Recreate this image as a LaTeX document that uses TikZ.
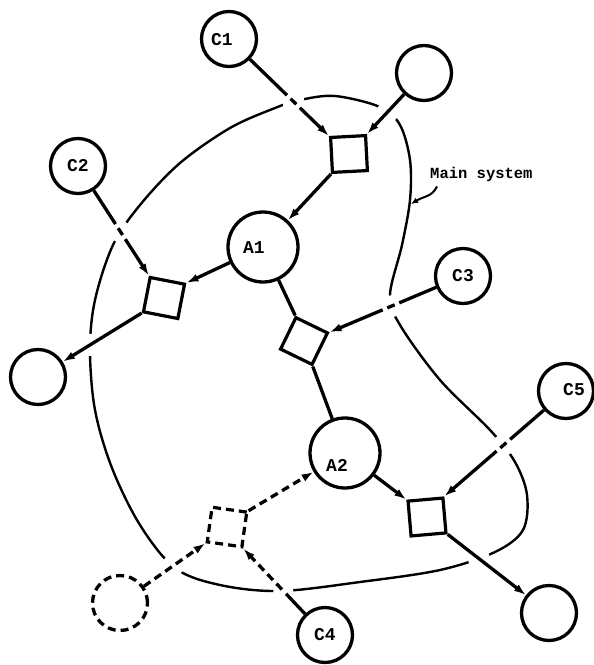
\documentclass[tikz,border=0pt]{standalone}
\usepackage{fontspec}
\setmonofont{Liberation Mono}
\usetikzlibrary{arrows.meta,calc,intersections}
\tikzset{
  lbl/.style={font=\ttfamily\bfseries\fontsize{18}{18}\selectfont, inner sep=0pt},
  circ/.style={circle, draw, line width=3.3pt, minimum size=55pt, inner sep=0pt, lbl},
  bigcirc/.style={circ, minimum size=70pt},
  sq/.style={rectangle, draw, line width=3.2pt, minimum size=35pt, inner sep=0pt},
  conn/.style={line width=3.3pt},
  dsh/.style={dash pattern=on 8pt off 5pt},
  arr/.style={-{Latex[length=12pt,width=8pt]}},
  bndry/.style={line width=2.4pt},
}
\newcommand\brokenlink[3]{%
  \path[name path=p#3] (#1) -- (#2);
  \path[name intersections={of=bnd and p#3, by=x#3}];
  \fill[white] (x#3) circle (11pt);
  \draw[conn] (#1) -- ($(x#3)!9pt!(#1)$);
  \draw[conn] ($(x#3)!4pt!(#1)$) -- ($(x#3)!4pt!(#2)$);
  \draw[conn,arr] ($(x#3)!9pt!(#2)$) -- (#2);}
\newcommand\plainlink[4][]{%
  \path[name path=p#4] (#2) -- (#3);
  \path[name intersections={of=bnd and p#4, by=x#4}];
  \fill[white] (x#4) circle (11pt);
  \draw[conn,arr,#1] (#2) -- (#3);}
\begin{document}
\begin{tikzpicture}[x=1pt,y=1pt]
\useasboundingbox (0,0) rectangle (594,-665);

% main system boundary
\draw[bndry, name path=bnd] plot[smooth cycle, tension=0.55] coordinates {
 (300,-100) (335,-96) (380,-107) (400,-125) (410,-160) (410,-200) (402,-245)
 (390,-295) (400,-325) (440,-380) (490,-430) (515,-462) (527,-495) (523,-530)
 (495,-552) (440,-570) (360,-582) (280,-591) (220,-585) (175,-568) (140,-525)
 (112,-468) (95,-410) (90,-350) (95,-300) (113,-245) (140,-205) (180,-163)
 (230,-128) (275,-108)};

% circles
\node[circ] (C1) at (229,-39) {};
\node[lbl] (tC1) at (222,-40) {C1};
\node[circ] (TR) at (424,-73) {};
\node[circ] (C2) at (78,-166) {C2};
\node[bigcirc] (A1) at (263,-247) {};
\node[lbl] (tA1) at (254,-248) {A1};
\node[circ] (C3) at (463,-276) {C3};
\node[circ] (L) at (38,-377) {};
\node[circ] (C5) at (566,-391) {};
\node[lbl] (tC5) at (574,-390) {C5};
\node[bigcirc] (A2) at (345,-453) {};
\node[lbl] (tA2) at (337,-465) {A2};
\node[circ, dsh] (D) at (120,-603) {};
\node[circ] (C4) at (325,-635) {C4};
\node[circ] (BR) at (549,-613) {};

% squares
\node[sq, rotate=3] (s1) at (349,-154) {};
\node[sq, rotate=-11] (s2) at (164,-298) {};
\node[sq, rotate=-26] (s3) at (304,-341) {};
\node[sq, rotate=5] (s4) at (427,-517) {};
\node[sq, dsh, rotate=-8] (s5) at (227,-527) {};

% connectors
\brokenlink{C1}{s1.north west}{a}
\plainlink{TR}{s1.north east}{b}
\draw[conn,arr] (s1.south west) -- (A1);
\draw[conn,arr] (A1) -- (s2.north east);
\brokenlink{C2}{s2.north west}{c}
\plainlink{s2.south west}{L}{d}
\draw[conn] (A1) -- (s3.north west);
\brokenlink{C3}{s3.north east}{e}
\draw[conn] (s3.south east) -- (A2);
\draw[conn,arr] (A2) -- (s4.north west);
\brokenlink{C5}{s4.north east}{f}
\plainlink{s4.south east}{BR}{g}
\plainlink[dsh]{D}{s5.south west}{h}
\path[name path=pi] (C4) -- (s5.south east);
\path[name intersections={of=bnd and pi, by=xi}];
\fill[white] (xi) circle (10pt);
\draw[conn] (C4) -- ($(xi)!4pt!(C4)$);
\draw[conn,dsh,arr] ($(xi)!2pt!(s5.south east)$) -- (s5.south east);
\draw[conn,dsh,arr] (s5.north east) -- (A2);

% label
\node[font=\ttfamily\bfseries\fontsize{15.5}{15.5}\selectfont, anchor=base west, inner sep=0pt] (ms) at (430,-178) {Main system};
\coordinate (msb) at (411,-204);
\draw[line width=2pt, -{Latex[length=7pt,width=6pt]}] ([xshift=7pt,yshift=-5pt]ms.south west) .. controls (432,-197) and (424,-196) .. (msb);
\end{tikzpicture}
\end{document}
